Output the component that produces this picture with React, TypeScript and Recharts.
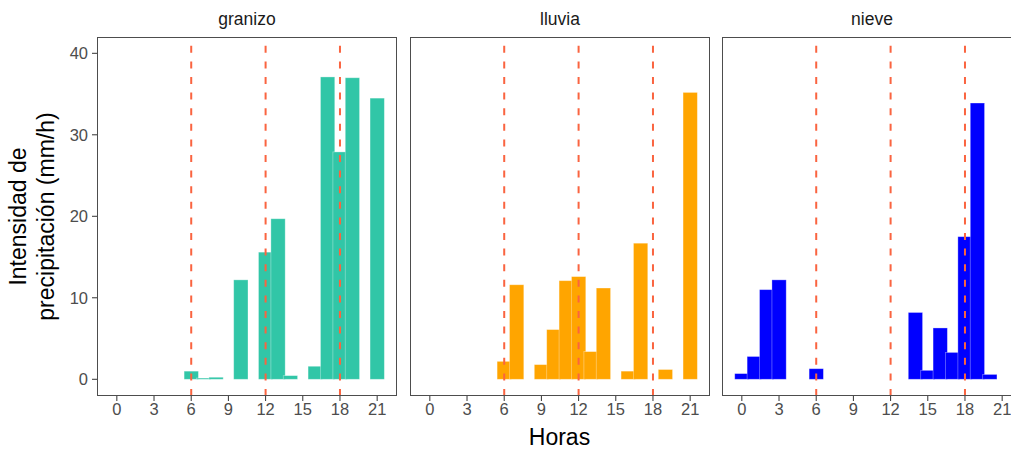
import { ComposedChart, Bar, XAxis, YAxis, ReferenceLine } from "recharts";

// categorias / ejes
const horasTicks = [0, 3, 6, 9, 12, 15, 18, 21];
const intensidadTicks = [0, 10, 20, 30, 40];
const lineasHora = [6, 12, 18];

// granizo
const granizoHoras = [6, 7, 8, 10, 12, 13, 14, 16, 17, 18, 19, 21];
const granizoIntensidad = [1.0, 0.15, 0.25, 12.2, 15.6, 19.7, 0.45, 1.6, 37.1, 27.9, 37.0, 34.5];

// lluvia
const lluviaHoras = [6, 7, 9, 10, 11, 12, 13, 14, 16, 17, 19, 21];
const lluviaIntensidad = [2.2, 11.6, 1.8, 6.1, 12.1, 12.6, 3.4, 11.2, 1.0, 16.7, 1.2, 35.2];

// nieve
const nieveHoras = [0, 1, 2, 3, 6, 14, 15, 16, 17, 18, 19, 20];
const nieveIntensidad = [0.7, 2.8, 11.0, 12.2, 1.3, 8.2, 1.1, 6.3, 3.3, 17.5, 33.9, 0.6];

const facetas = [
  { nombre: "granizo", horas: granizoHoras, valores: granizoIntensidad, color: "#31C6A7" },
  { nombre: "lluvia", horas: lluviaHoras, valores: lluviaIntensidad, color: "#FFA500" },
  { nombre: "nieve", horas: nieveHoras, valores: nieveIntensidad, color: "#0000FF" },
];

const FONT = "'Liberation Sans', Arial, sans-serif";
const PANEL_W = 300;
const PANEL_H = 359;
const PANEL_TOP = 37;
const PANEL_LEFT = [97, 410, 722];
const Y_AXIS_W = 40;
const X_AXIS_H = 40;
const BAR_W = 14.3; // barras algo mas anchas que una hora, se solapan como en ggplot

// recharts encoge barSize cuando es mayor que el hueco entre horas,
// asi que se redibuja centrada en la posicion que da la escala
const BarraAncha = (props: any) => {
  const { x, y, width, height, fill } = props;
  if (height == null || height <= 0) return null;
  const cx = x + width / 2;
  return (
    <rect
      x={cx - BAR_W / 2}
      y={y}
      width={BAR_W}
      height={height}
      fill={fill}
      stroke="rgba(255,255,255,0.4)"
      strokeWidth={0.8}
    />
  );
};

function Panel({ faceta, index }: { faceta: (typeof facetas)[number]; index: number }) {
  const data = faceta.horas.map((h, i) => ({ hora: h, intensidad: faceta.valores[i] }));
  const conEje = index === 0;
  const yW = conEje ? Y_AXIS_W : 0;
  const left = PANEL_LEFT[index];

  return (
    <>
      <div
        style={{
          position: "absolute",
          left,
          top: 9,
          width: PANEL_W,
          textAlign: "center",
          fontSize: 17.5,
          color: "#1A1A1A",
        }}
      >
        {faceta.nombre}
      </div>
      <div style={{ position: "absolute", left: left - yW, top: PANEL_TOP }}>
        <ComposedChart
          width={PANEL_W + yW}
          height={PANEL_H + X_AXIS_H}
          data={data}
          margin={{ top: 0, right: 0, bottom: 0, left: 0 }}
        >
          <XAxis
            dataKey="hora"
            type="number"
            domain={[-1.6, 22.6]}
            allowDataOverflow
            ticks={horasTicks}
            interval={0}
            height={X_AXIS_H}
            axisLine={false}
            tickSize={5}
            tickMargin={2}
            tickLine={{ stroke: "#333333" }}
            tick={{ fill: "#4D4D4D", fontSize: 16.5, fontFamily: FONT }}
          />
          <YAxis
            type="number"
            hide={!conEje}
            domain={[-2.05, 42]}
            allowDataOverflow
            ticks={intensidadTicks}
            interval={0}
            width={Y_AXIS_W}
            axisLine={false}
            tickSize={5}
            tickMargin={4}
            tickLine={{ stroke: "#333333" }}
            tick={{ fill: "#4D4D4D", fontSize: 16.5, fontFamily: FONT }}
          />
          <Bar
            dataKey="intensidad"
            fill={faceta.color}
            shape={BarraAncha}
            isAnimationActive={false}
          />
          {lineasHora.map((h) => (
            <ReferenceLine
              key={h}
              x={h}
              stroke="#FA6440"
              strokeWidth={2}
              strokeDasharray="7 8.6"
            />
          ))}
        </ComposedChart>
      </div>
      <div
        style={{
          position: "absolute",
          left,
          top: PANEL_TOP,
          width: PANEL_W,
          height: PANEL_H,
          border: "1px solid #4D4D4D",
          boxSizing: "border-box",
          pointerEvents: "none",
        }}
      />
    </>
  );
}

export default function App() {
  return (
    <div
      style={{
        position: "absolute",
        left: 0,
        top: 0,
        width: 1011,
        height: 456,
        overflow: "hidden",
        background: "#ffffff",
        fontFamily: FONT,
      }}
    >
      {facetas.map((f, i) => (
        <Panel key={f.nombre} faceta={f} index={i} />
      ))}

      {/* titulo eje y */}
      <div
        style={{
          position: "absolute",
          left: 32 - 150,
          top: 216.5 - 27.5,
          width: 300,
          height: 55,
          lineHeight: "27.5px",
          textAlign: "center",
          fontSize: 23,
          color: "#000000",
          transform: "rotate(-90deg)",
        }}
      >
        Intensidad de
        <br />
        precipitación (mm/h)
      </div>

      {/* titulo eje x */}
      <div
        style={{
          position: "absolute",
          left: 559.5 - 100,
          top: 424,
          width: 200,
          textAlign: "center",
          fontSize: 23,
          color: "#000000",
        }}
      >
        Horas
      </div>
    </div>
  );
}
